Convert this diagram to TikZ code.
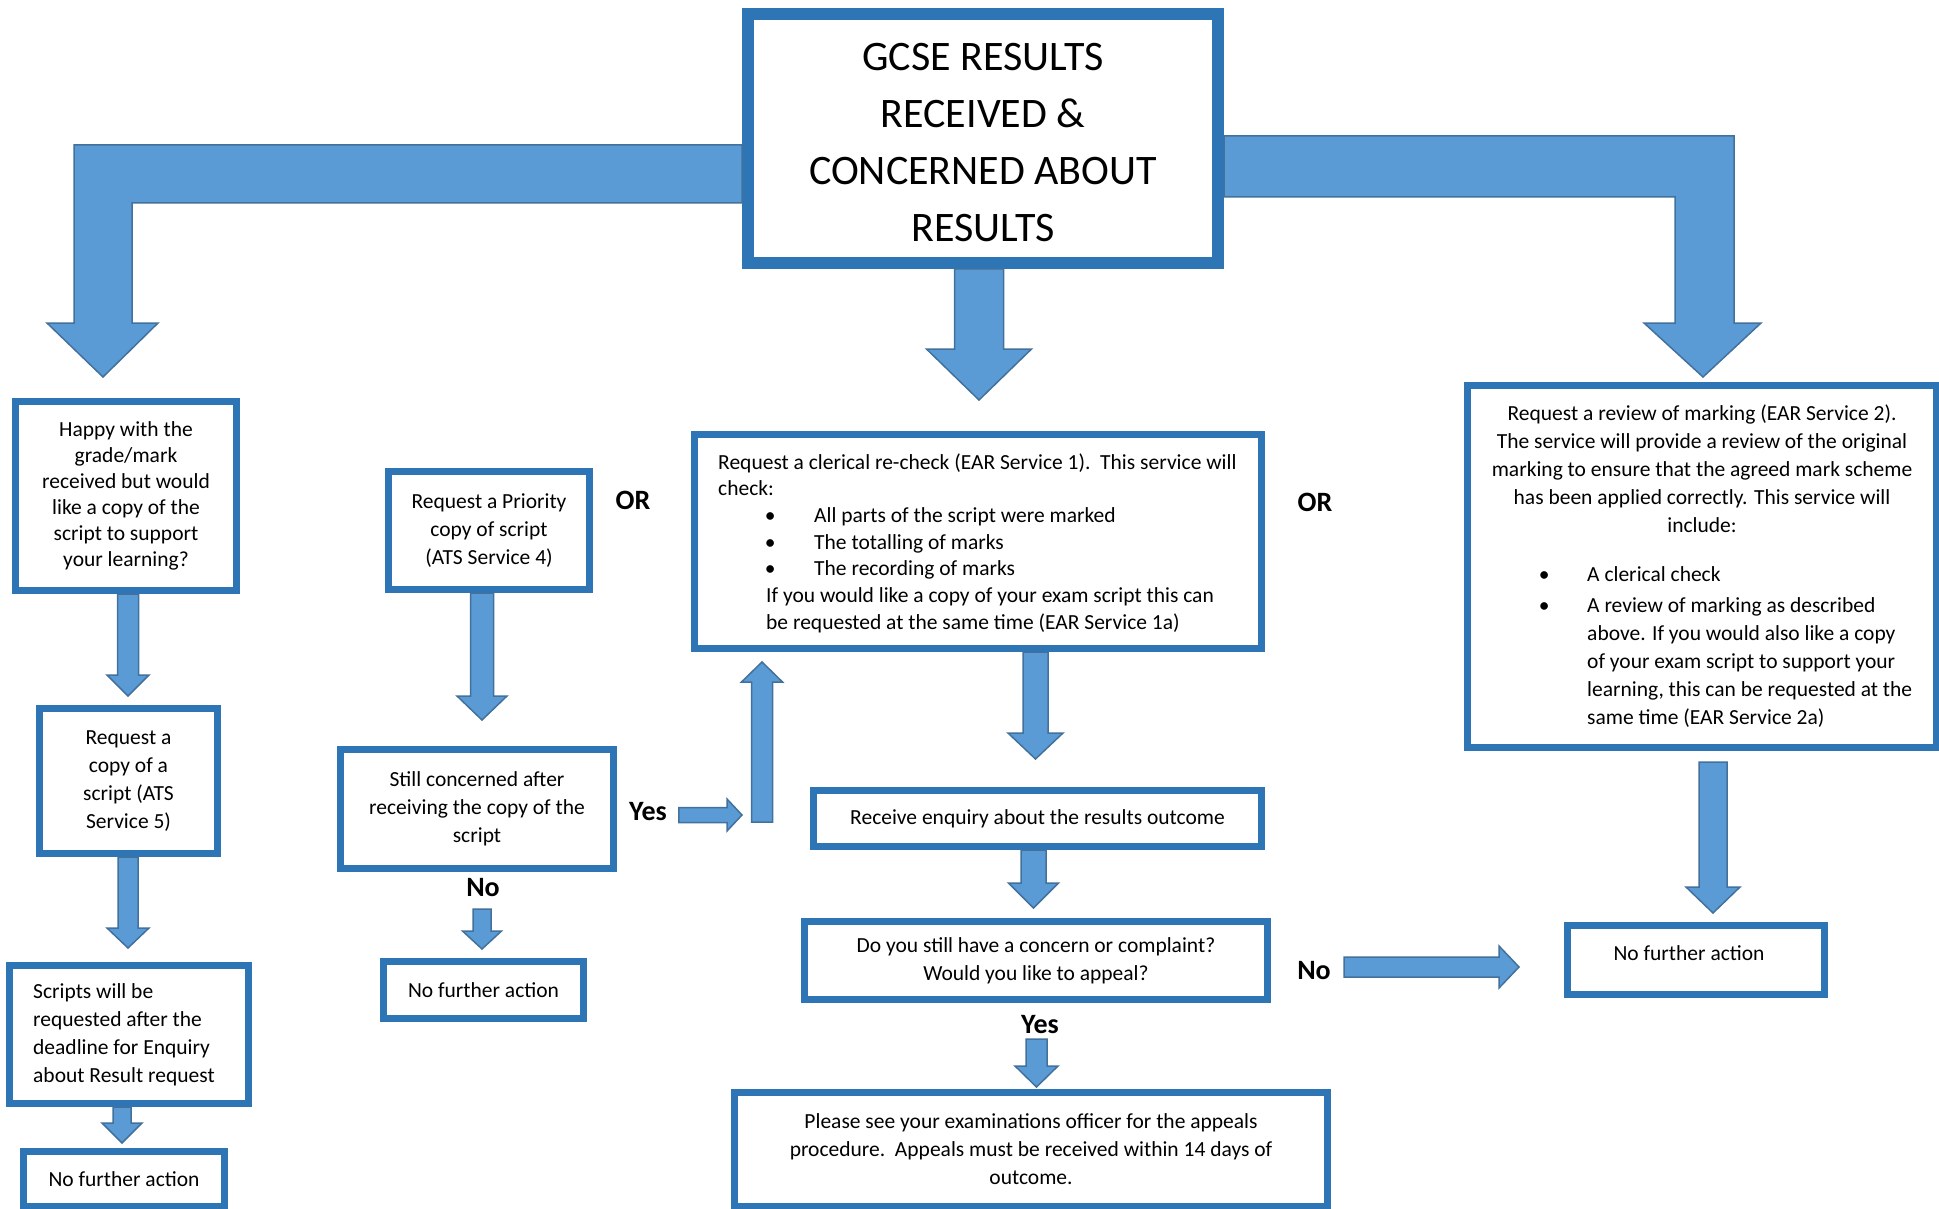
\documentclass[tikz,border=0pt]{standalone}
\usepackage{fontspec}
\setmainfont{Carlito}
\usetikzlibrary{calc}
\definecolor{boxblue}{HTML}{2E75B6}
\definecolor{arrfill}{HTML}{5B9BD5}
\definecolor{arredge}{HTML}{41719C}
\tikzset{
 box/.style={draw=boxblue, line width=7pt, fill=white, inner sep=0pt, align=center, font=\fontsize{21.5}{28}\selectfont},
 titlebox/.style={box, line width=12pt},
 txt/.style={inner sep=0pt, font=\fontsize{21.5}{28}\selectfont},
 lbl/.style={inner sep=0pt, font=\fontsize{28}{30}\selectfont\bfseries},
 blk/.style={fill=arrfill, draw=arredge, line width=1.5pt, line join=miter},
}
% vertical block arrow: start, tip, half shaft, half head, head length (signed)
\newcommand\vblk[5]{\path[blk] let \p1=#1, \p2=#2 in ({\x2-#3},{\y1}) -- ({\x2-#3},{\y2+(#5)}) -- ({\x2-#4},{\y2+(#5)}) -- (\x2,\y2) -- ({\x2+#4},{\y2+(#5)}) -- ({\x2+#3},{\y2+(#5)}) -- ({\x2+#3},{\y1}) -- cycle;}
% horizontal block arrow (pointing right)
\newcommand\hblk[5]{\path[blk] let \p1=#1, \p2=#2 in ({\x1},{\y2+#3}) -- ({\x2-#5},{\y2+#3}) -- ({\x2-#5},{\y2+#4}) -- (\x2,\y2) -- ({\x2-#5},{\y2-#4}) -- ({\x2-#5},{\y2-#3}) -- ({\x1},{\y2-#3}) -- cycle;}
\begin{document}
\begin{tikzpicture}[x=1pt,y=-1pt]
\useasboundingbox (0,0) rectangle (1939,1209);
\fill[white] (0,0) rectangle (1939,1209);

% title
\node[titlebox, minimum width=470pt, minimum height=249pt] (title) at (983,138.5) {};
\node[txt, align=center, font=\fontsize{42}{57}\selectfont] (titlet) at (983,142.5)
 {GCSE RESULTS\\RECEIVED \&\\CONCERNED ABOUT\\RESULTS};

% left column
\node[box, minimum width=221pt, minimum height=189pt, font=\fontsize{21.5}{26}\selectfont] (happy) at (126,496)
 {Happy with the\\grade/mark\\received but would\\like a copy of the\\script to support\\your learning?};
\node[box, minimum width=178pt, minimum height=145pt] (ats5) at (128.5,781)
 {Request a\\copy of a\\script (ATS\\Service 5)};
\node[box, minimum width=239pt, minimum height=138pt] (scripts) at (129,1034.5) {};
\node[txt, anchor=west, align=left] (scriptst) at (33,1035)
 {Scripts will be\\requested after the\\deadline for Enquiry\\about Result request};
\node[box, minimum width=201pt, minimum height=55pt] (nfa1) at (124,1179) {No further action};

% second column
\node[box, minimum width=201pt, minimum height=118pt] (priority) at (489,530.5)
 {Request a Priority\\copy of script\\(ATS Service 4)};
\node[box, minimum width=273pt, minimum height=119pt] (still) at (477,809)
 {Still concerned after\\receiving the copy of the\\script};
\node[box, minimum width=200pt, minimum height=57pt] (nfa2) at (483.5,990) {No further action};

% centre column
\node[box, minimum width=567pt, minimum height=214pt] (clerical) at (978,541.5) {};
\node[txt, anchor=west, align=left, font=\fontsize{21.5}{26.7}\selectfont] (clericalt) at (718,543)
 {Request a clerical re-check (EAR Service 1).\ \ This service will\\
  check:\\
  \hspace*{52pt}\makebox[0pt]{\textbullet}\hspace*{44pt}All parts of the script were marked\\
  \hspace*{52pt}\makebox[0pt]{\textbullet}\hspace*{44pt}The totalling of marks\\
  \hspace*{52pt}\makebox[0pt]{\textbullet}\hspace*{44pt}The recording of marks\\
  \hspace*{48pt}If you would like a copy of your exam script this can\\
  \hspace*{48pt}be requested at the same time (EAR Service 1a)};
\node[box, minimum width=448pt, minimum height=56pt] (receive) at (1037.5,818.5)
 {Receive enquiry about the results outcome};
\node[box, minimum width=463pt, minimum height=78pt] (doyou) at (1036,960.5)
 {Do you still have a concern or complaint?\\Would you like to appeal?};
\node[box, minimum width=593pt, minimum height=114pt] (appeals) at (1031,1149.5)
 {Please see your examinations officer for the appeals\\procedure.\ \ Appeals must be received within 14 days of\\outcome.};

% right column
\node[box, minimum width=469pt, minimum height=362pt] (review) at (1702,566.5) {};
\node[txt, align=center] (reviewtop) at (1702,469)
 {Request a review of marking (EAR Service 2).\\The service will provide a review of the original\\marking to ensure that the agreed mark scheme\\has been applied correctly. This service will\\include:};
\node[txt, anchor=west, align=left] (reviewlist) at (1544,647.5)
 {\makebox[0pt]{\textbullet}\hspace*{43pt}A clerical check\\[3pt]
  \makebox[0pt]{\textbullet}\hspace*{43pt}A review of marking as described\\
  \hspace*{43pt}above. If you would also like a copy\\
  \hspace*{43pt}of your exam script to support your\\
  \hspace*{43pt}learning, this can be requested at the\\
  \hspace*{43pt}same time (EAR Service 2a)};
\node[box, minimum width=257pt, minimum height=69pt] (nfa3) at (1696,960) {};
\node[txt] (nfa3t) at (1689,953) {No further action};

% labels
\node[lbl] (or1) at (633,500) {OR};
\node[lbl] (or2) at (1315,502) {OR};
\node[lbl] (yes1) at (648,812) {Yes};
\node[lbl] (no1) at (483,888) {No};
\node[lbl] (no2) at (1314,971) {No};
\node[lbl] (yes2) at (1040,1025) {Yes};

% bent arrows from the title
\path[blk] (title.west) ++(0,6.5) -- ++(-668,0) -- ++(0,178) -- ++(-27,0) -- ++(56,54)
 -- ++(55,-54) -- ++(-26,0) -- ++(0,-120) -- ++(610,0) -- cycle;
\path[blk] (title.east) ++(0,-2.5) -- ++(510,0) -- ++(0,187) -- ++(27,0) -- ++(-58,54)
 -- ++(-59,-54) -- ++(31,0) -- ++(0,-126) -- ++(-451,0) -- cycle;
\vblk{(title.south)}{($(title.south)+(-4,131)$)}{24.5pt}{52.5pt}{51pt}

% straight block arrows
\vblk{(happy.south)}{($(ats5.north)+(-0.5,-9)$)}{10.5pt}{21pt}{21pt}
\vblk{(ats5.south)}{($(scripts.north)+(-1,-14)$)}{10pt}{21pt}{20pt}
\vblk{(scripts.south)}{($(nfa1.north)+(-2,-5)$)}{9pt}{20pt}{20pt}
\vblk{(priority.south)}{($(still.north)+(5,-26)$)}{11.5pt}{25pt}{24pt}
\vblk{($(still.south)+(0,37)$)}{($(nfa2.north)+(-1.5,-9)$)}{9pt}{19.5pt}{18pt}
\hblk{($(yes1.east)+(12,0)$)}{($(still.east)+(125,6)$)}{7.5pt}{16pt}{15pt}
\vblk{($(clerical.south)+(-215.5,170)$)}{($(clerical.south)+(-216,10)$)}{10.5pt}{20.5pt}{-20pt}
\vblk{(clerical.south)}{($(receive.north)+(-2,-28)$)}{12.5pt}{27.5pt}{26pt}
\vblk{(receive.south)}{($(doyou.north)+(-2.5,-10)$)}{12.5pt}{25pt}{25pt}
\vblk{($(doyou.south)+(0,36)$)}{($(appeals.north)+(5.5,-2)$)}{10.5pt}{21.5pt}{21pt}
\hblk{($(doyou.east)+(73,6.5)$)}{($(nfa3.west)+(-45,7)$)}{10pt}{21pt}{20pt}
\vblk{($(review.south)+(0,11)$)}{($(nfa3.north)+(17,-9)$)}{14pt}{27pt}{26pt}
\end{tikzpicture}
\end{document}
